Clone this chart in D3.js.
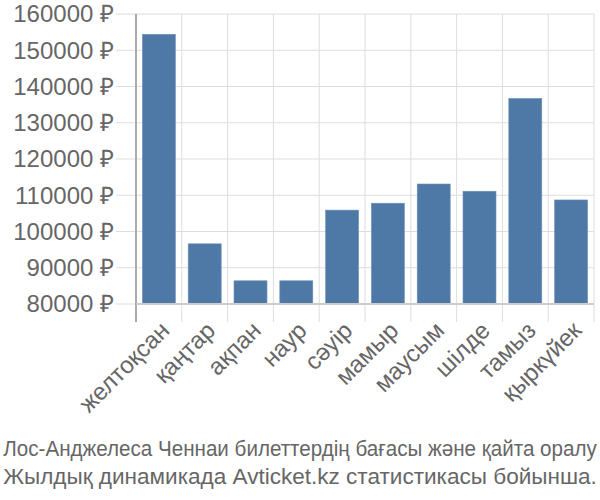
<!DOCTYPE html>
<html>
<head>
<meta charset="utf-8">
<script src="https://cdn.jsdelivr.net/npm/d3@7"></script>
<style>
  html, body { margin: 0; padding: 0; background: #fff; }
  text { font-family: "Liberation Sans", Arial, sans-serif; fill: #666; }
</style>
</head>
<body>
<svg id="chart" width="600" height="500"></svg>
<script>
const months = ["желтоқсан", "қаңтар", "ақпан", "наур", "сәуір", "мамыр", "маусым", "шілде", "тамыз", "қыркүйек"];
const prices = [154400, 96600, 86400, 86400, 105900, 107800, 113100, 111100, 136700, 108700];
const yTicks = [80000, 90000, 100000, 110000, 120000, 130000, 140000, 150000, 160000];
const titleLines = ["Лос-Анджелеса Ченнаи билеттердің бағасы және қайта оралу", "Жылдық динамикада Avticket.kz статистикасы бойынша."];

const svg = d3.select("#chart");
const pLeft = 136, pRight = 594, pTop = 14, pBottom = 304;

const x = d3.scaleBand().domain(months).range([pLeft, pRight]).paddingInner(0.28).paddingOuter(0.14);
const xg = d3.scaleBand().domain(months).range([pLeft, pRight]);
const y = d3.scaleLinear().domain([80000, 160000]).range([pBottom, pTop]);

// horizontal gridlines
svg.append("g").selectAll("line").data(yTicks).join("line")
  .attr("x1", pLeft - 20).attr("x2", pRight)
  .attr("y1", d => y(d)).attr("y2", d => y(d))
  .attr("stroke", "#ddd").attr("stroke-width", 1);

// vertical gridlines
const vx = months.map(m => xg(m)).concat([pRight]);
svg.append("g").selectAll("line").data(vx).join("line")
  .attr("x1", d => d).attr("x2", d => d)
  .attr("y1", pTop).attr("y2", pBottom + 18)
  .attr("stroke", "#ddd").attr("stroke-width", 1);

// bars
svg.append("g").selectAll("rect").data(prices).join("rect")
  .attr("x", (d, i) => x(months[i]))
  .attr("width", x.bandwidth())
  .attr("y", d => y(d))
  .attr("height", d => pBottom - y(d))
  .attr("fill", "#4e79a7")
  .attr("stroke", "#6d8fb8").attr("stroke-width", 0.6);

// axis lines
svg.append("line").attr("x1", pLeft).attr("x2", pLeft).attr("y1", pTop).attr("y2", pBottom + 18)
  .attr("stroke", "#aaa").attr("stroke-width", 2);
svg.append("line").attr("x1", pLeft).attr("x2", pRight).attr("y1", pBottom).attr("y2", pBottom)
  .attr("stroke", "#ccc").attr("stroke-width", 2);

// y tick labels
svg.append("g").selectAll("text").data(yTicks).join("text")
  .attr("x", pLeft - 22).attr("y", d => y(d))
  .attr("dy", "0.35em")
  .attr("text-anchor", "end")
  .style("font-size", "24px")
  .text(d => d + " ₽");

// x labels
svg.append("g").selectAll("text").data(months).join("text")
  .attr("transform", m => `translate(${x(m) + x.bandwidth() / 2 + 6},${pBottom + 22}) rotate(-45)`)
  .attr("text-anchor", "end")
  .attr("dy", "0.35em")
  .style("font-size", "24px")
  .text(m => m);

// title (each line fitted to the width)
svg.append("g").selectAll("text").data(titleLines).join("text")
  .attr("x", 0).attr("y", 0)
  .attr("text-anchor", "middle")
  .style("font-size", "22px")
  .text(d => d)
  .each(function(d, i) {
    const w = this.getComputedTextLength();
    const k = 594 / w;
    d3.select(this).attr("transform", `translate(300,${456 + i * 28}) scale(${k},1)`);
  });
</script>
</body>
</html>
